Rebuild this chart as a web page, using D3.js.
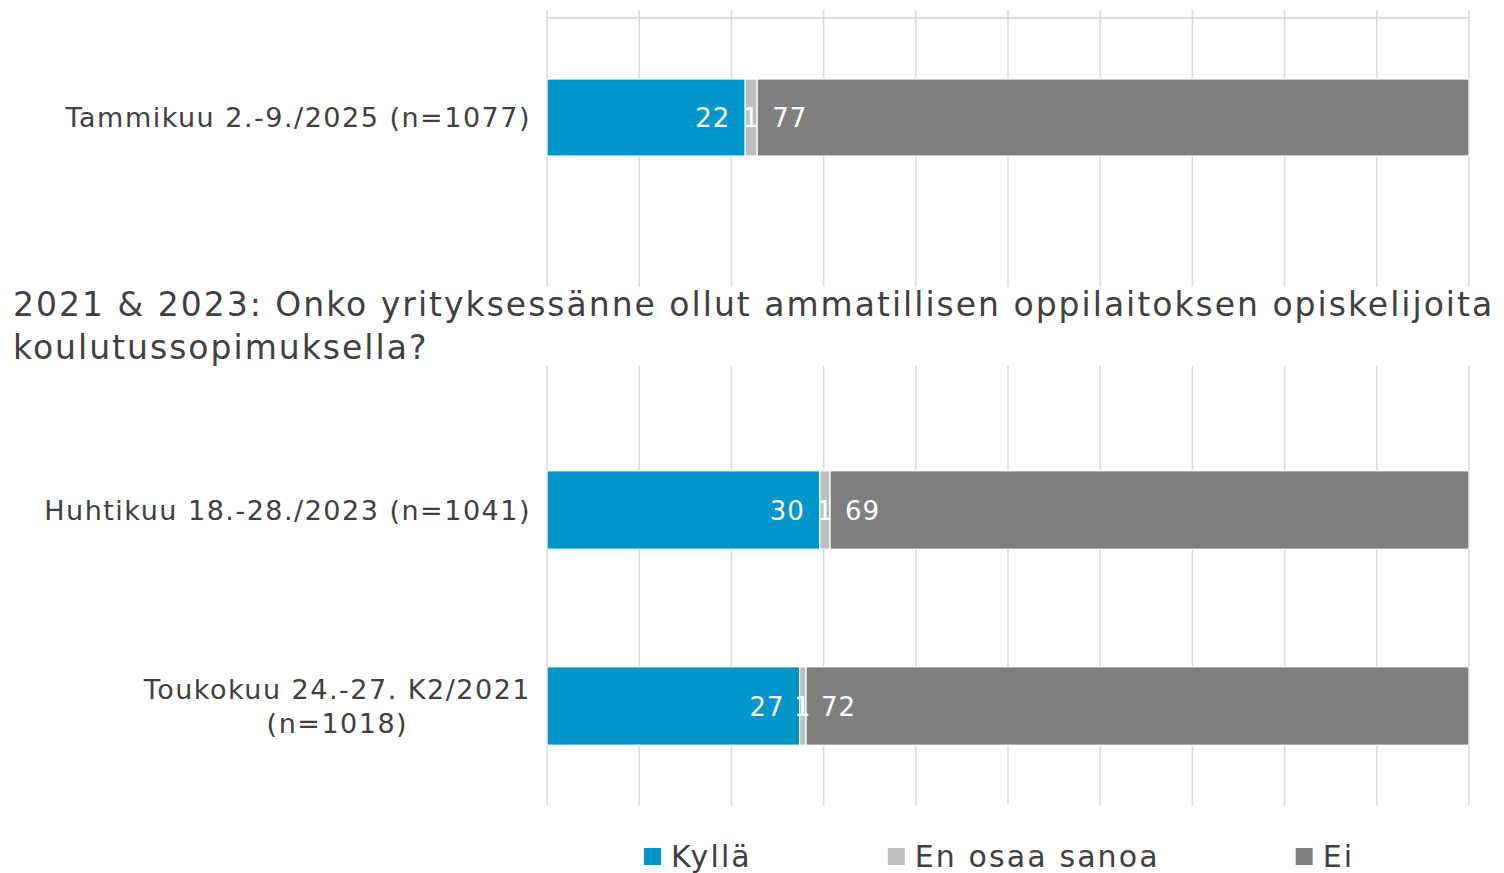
<!DOCTYPE html>
<html>
<head>
<meta charset="utf-8">
<script src="https://cdn.jsdelivr.net/npm/d3@7"></script>
<style>
  body { margin: 0; background: #fff; }
  text { font-family: "DejaVu Sans", Verdana, sans-serif; }
</style>
</head>
<body>
<div id="chart"></div>
<script>
// Data
var series = ["Kyllä", "En osaa sanoa", "Ei"];
var colors = ["#0096C9", "#BFBFBF", "#7F7F7F"];

var topCategories = ["Tammikuu 2.-9./2025 (n=1077)"];
var topKylla = [21.5];
var topEos = [1.3];
var topEi = [77.2];

var title = ["2021 & 2023: Onko yrityksessänne ollut ammatillisen oppilaitoksen opiskelijoita", "koulutussopimuksella?"];
var bottomCategories = [["Huhtikuu 18.-28./2023 (n=1041)"], ["Toukokuu 24.-27. K2/2021", "(n=1018)"]];
var bottomKylla = [29.6, 27.4];
var bottomEos = [1.1, 0.7];
var bottomEi = [69.3, 71.9];

var ticks = d3.range(0, 101, 10);

// Size
var w = 1504, h = 873;
var textColor = "#404040";

var svg = d3.select("#chart").append("svg")
  .attr("width", w)
  .attr("height", h);

var xScale = d3.scaleLinear().domain([0, 100]).range([547, 1469]);

// Build a panel of stacked bars
function drawPanel(cats, kylla, eos, ei, yScale, gridTop, gridBottom, axisLine) {
  var g = svg.append("g");

  // Gridlines
  g.selectAll(".grid").data(ticks).enter().append("line")
    .attr("x1", function(d) { return xScale(d); })
    .attr("x2", function(d) { return xScale(d); })
    .attr("y1", gridTop)
    .attr("y2", gridBottom)
    .attr("stroke", "#d9d9d9")
    .attr("stroke-width", 1.5);

  if (axisLine) {
    g.append("line")
      .attr("x1", xScale(0)).attr("x2", xScale(100))
      .attr("y1", gridTop + 8).attr("y2", gridTop + 8)
      .attr("stroke", "#d0d0d0")
      .attr("stroke-width", 1.5);
  }

  var rows = cats.map(function(c, i) {
    var vals = [kylla[i], eos[i], ei[i]];
    var x0 = 0;
    var segs = vals.map(function(v, j) {
      var s = {cat: i, series: j, v: v, x0: x0, x1: x0 + v};
      x0 += v;
      return s;
    });
    return segs;
  });
  var segs = [].concat.apply([], rows);

  // Bars
  g.selectAll(".bar").data(segs).enter().append("rect")
    .attr("x", function(d) { return xScale(d.x0); })
    .attr("y", function(d) { return yScale(d.cat); })
    .attr("width", function(d) { return xScale(d.x1) - xScale(d.x0); })
    .attr("height", yScale.bandwidth())
    .attr("fill", function(d) { return colors[d.series]; })
    .attr("stroke", "#fff")
    .attr("stroke-width", 1.2);

  // Value labels
  g.selectAll(".val").data(segs).enter().append("text")
    .attr("x", function(d) {
      if (d.series == 0) return xScale(d.x1) - 15;
      if (d.series == 1) return (xScale(d.x0) + xScale(d.x1)) / 2;
      return xScale(d.x0) + 15;
    })
    .attr("y", function(d) { return yScale(d.cat) + yScale.bandwidth() / 2 + 9.5; })
    .attr("text-anchor", function(d) { return d.series == 0 ? "end" : (d.series == 1 ? "middle" : "start"); })
    .attr("font-size", "26px")
    .attr("letter-spacing", "1px")
    .attr("fill", "#fff")
    .text(function(d) { return Math.round(d.v); });

  // Category labels
  cats.forEach(function(lines, i) {
    if (!Array.isArray(lines)) lines = [lines];
    var cy = yScale(i) + yScale.bandwidth() / 2;
    var t = g.append("text")
      .attr("font-size", "27px")
      .attr("letter-spacing", "1.5px")
      .attr("fill", textColor);
    var lh = 34;
    lines.forEach(function(line, k) {
      t.append("tspan")
        .attr("y", cy + 9.5 + (k - (lines.length - 1) / 2) * lh)
        .text(line);
    });
    var maxW = 0;
    t.selectAll("tspan").each(function() { maxW = Math.max(maxW, this.getComputedTextLength()); });
    var right = 531;
    t.attr("text-anchor", "middle");
    t.selectAll("tspan").attr("x", right - maxW / 2);
  });
}

// Top panel
var yTop = d3.scaleBand().domain(d3.range(topCategories.length))
  .range([40.5, 194.5]).paddingInner(0.5).paddingOuter(0.25);
drawPanel(topCategories, topKylla, topEos, topEi, yTop, 10, 287, true);

// Title
svg.append("text")
  .attr("x", 13)
  .attr("font-size", "33px")
  .attr("letter-spacing", "2px")
  .attr("fill", textColor)
  .selectAll("tspan").data(title).enter().append("tspan")
    .attr("x", 13)
    .attr("y", function(d, i) { return 316 + i * 43; })
    .text(function(d) { return d; });

// Bottom panel
var yBottom = d3.scaleBand().domain(d3.range(bottomCategories.length))
  .range([412, 804]).paddingInner(0.6).paddingOuter(0.3);
drawPanel(bottomCategories, bottomKylla, bottomEos, bottomEi, yBottom, 366, 805, false);

// Legend
var legend = svg.append("g");
var lx = 644;
series.forEach(function(s, i) {
  legend.append("rect")
    .attr("x", lx).attr("y", 848)
    .attr("width", 17).attr("height", 17)
    .attr("fill", colors[i]);
  var t = legend.append("text")
    .attr("x", lx + 27).attr("y", 867)
    .attr("font-size", "30px")
    .attr("letter-spacing", "2.1px")
    .attr("fill", textColor)
    .text(s);
  lx += 27 + t.node().getComputedTextLength() + 136;
});
</script>
</body>
</html>
